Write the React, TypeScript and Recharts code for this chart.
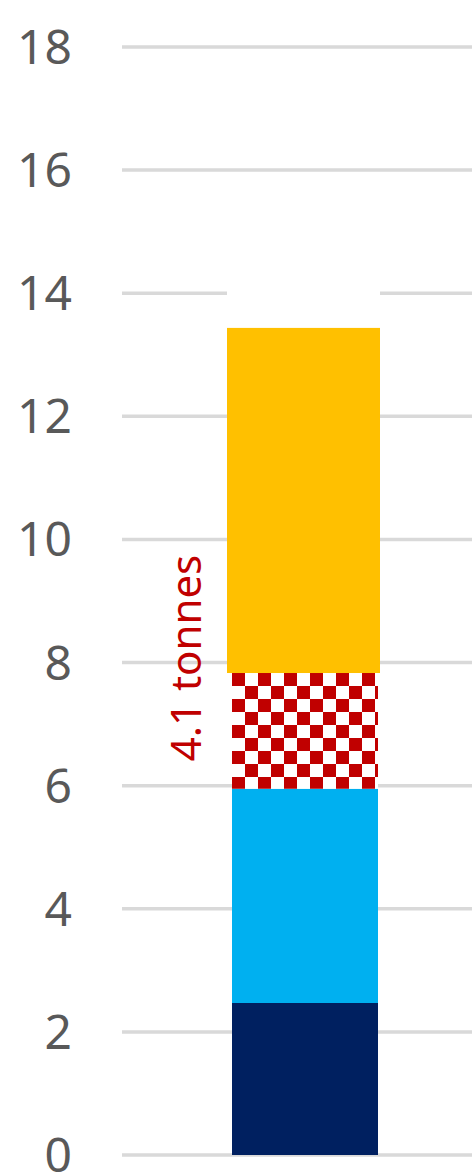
import { BarChart, Bar, XAxis, YAxis, CartesianGrid, LabelList } from 'recharts'

const categories = ['']
const baseValues = [2.47]
const blueValues = [3.48]
const checkerValues = [1.88]
const orangeValues = [5.61]
const topValues = [1.5]
const yTicks = [0, 2, 4, 6, 8, 10, 12, 14, 16, 18]
const checkerLabels = ['4.1 tonnes']

const data = categories.map((name, i) => ({
  name,
  base: baseValues[i],
  blue: blueValues[i],
  checker: checkerValues[i],
  orange: orangeValues[i],
  top: topValues[i],
  label: checkerLabels[i],
}))

// top two segments sit a touch wider than the lower ones
const WideRect = (props: any) => {
  const { x, y, width, height, fill } = props
  if (!height || height <= 0) return null
  return <rect x={x - 5} y={y} width={width + 7} height={height} fill={fill} />
}

const SideLabel = (props: any) => {
  const { x, y, value } = props
  const cx = x - 47
  const cy = y - 15
  return (
    <text
      x={cx}
      y={cy}
      transform={`rotate(-90 ${cx} ${cy})`}
      textAnchor="middle"
      dominantBaseline="central"
      fill="#C00000"
      fontSize={42}
      fontFamily="'Noto Sans', sans-serif"
    >
      {value}
    </text>
  )
}

export default function App() {
  return (
    <div style={{ position: 'absolute', left: 0, top: 0, background: '#fff' }}>
      <BarChart
        width={472}
        height={1175}
        data={data}
        margin={{ top: 47, right: 0, bottom: 20, left: 0 }}
        barCategoryGap={0}
      >
        <defs>
          <pattern id="checks" patternUnits="userSpaceOnUse" width={26} height={26} x={232} y={673}>
            <rect width={26} height={26} fill="#fff" />
            <rect x={0} y={0} width={13} height={13} fill="#C00000" />
            <rect x={13} y={13} width={13} height={13} fill="#C00000" />
          </pattern>
        </defs>
        <CartesianGrid vertical={false} stroke="#D9D9D9" strokeWidth={3.5} />
        <XAxis dataKey="name" hide padding={{ left: 16, right: 0 }} />
        <YAxis
          domain={[0, 18]}
          ticks={yTicks}
          width={122}
          axisLine={false}
          tickLine={false}
          tickSize={0}
          tickMargin={50}
          interval={0}
          tick={{ fill: '#595959', fontSize: 48, fontFamily: "'Noto Sans', sans-serif" }}
        />
        <Bar dataKey="base" stackId="a" fill="#002060" barSize={146} isAnimationActive={false} />
        <Bar dataKey="blue" stackId="a" fill="#00B0F0" barSize={146} isAnimationActive={false} />
        <Bar dataKey="checker" stackId="a" fill="url(#checks)" barSize={146} isAnimationActive={false}>
          <LabelList dataKey="label" content={SideLabel} />
        </Bar>
        <Bar dataKey="orange" stackId="a" fill="#FFC000" barSize={146} shape={WideRect} isAnimationActive={false} />
        <Bar dataKey="top" stackId="a" fill="#FFFFFF" barSize={146} shape={WideRect} isAnimationActive={false} />
      </BarChart>
    </div>
  )
}
